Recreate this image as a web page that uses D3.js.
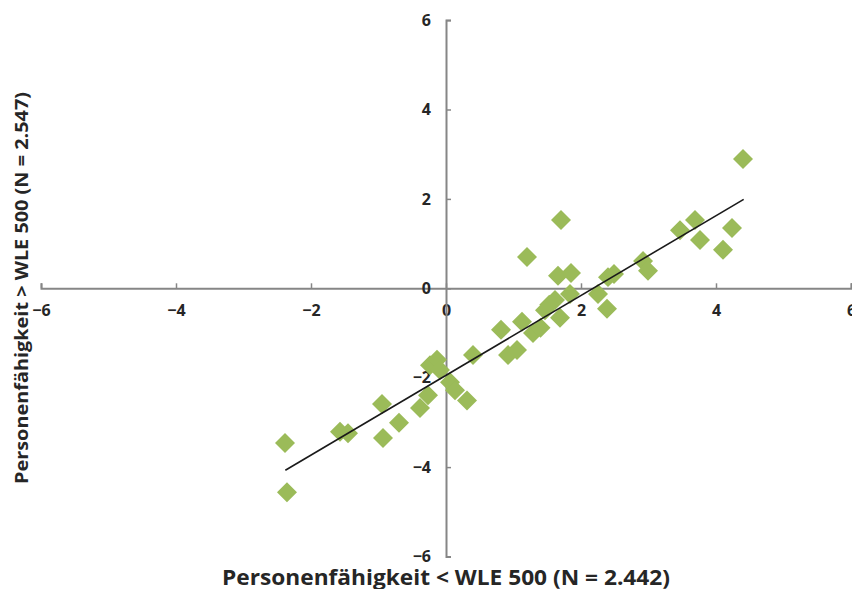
<!DOCTYPE html>
<html>
<head>
<meta charset="utf-8">
<script src="https://cdn.jsdelivr.net/npm/d3@7"></script>
<style>
  body { margin: 0; background: #fff; }
  text { font-family: "Open Sans", sans-serif; font-weight: bold; fill: #262626; }
</style>
</head>
<body>
<svg id="chart"></svg>
<script>
var width = 852,
  height = 589;

// values
var xVals = [-2.385, -2.356, -1.570, -1.452, -0.948, -0.933, -0.696, -0.385, -0.267, -0.237,
  -0.133, -0.089, 0.059, 0.133, 0.311, 0.400, 0.815, 0.919, 1.052, 1.126,
  1.289, 1.200, 1.467, 1.530, 1.615, 1.689, 1.400, 1.704, 1.659, 1.852,
  1.837, 2.252, 2.385, 2.400, 2.489, 2.919, 2.993, 3.467, 3.689, 3.763,
  4.237, 4.104, 4.400];
var yVals = [-3.46, -4.56, -3.21, -3.24, -2.59, -3.35, -3.01, -2.68, -2.39, -1.72,
  -1.60, -1.83, -2.10, -2.28, -2.51, -1.49, -0.93, -1.49, -1.38, -0.75,
  -1.00, 0.70, -0.49, -0.37, -0.26, -0.66, -0.88, 1.53, 0.28, 0.34,
  -0.13, -0.13, -0.46, 0.25, 0.32, 0.61, 0.39, 1.30, 1.53, 1.08,
  1.35, 0.86, 2.89];
var trendX = [-2.38, 4.41];
var trendY = [-4.07, 1.99];
var tickVals = [-6, -4, -2, 0, 2, 4, 6];
var xTitle = "Personenfähigkeit < WLE 500 (N = 2.442)";
var yTitle = "Personenfähigkeit > WLE 500 (N = 2.547)";

var svg = d3.select("#chart")
  .attr("width", width)
  .attr("height", height);

var x = d3.scaleLinear().domain([-6, 6]).range([41, 851]);
var y = d3.scaleLinear().domain([-6, 6]).range([556.5, 20.1]);

var xAxis = d3.axisBottom(x)
  .tickValues(tickVals)
  .tickSizeInner(-5)
  .tickSizeOuter(-5)
  .tickPadding(16)
  .tickFormat(d3.format("d"));

var yAxis = d3.axisLeft(y)
  .tickValues(tickVals)
  .tickSizeInner(-5)
  .tickSizeOuter(-5)
  .tickPadding(15)
  .tickFormat(d3.format("d"));

function styleAxis(g) {
  g.select(".domain").attr("stroke", "#868686").attr("stroke-width", 2);
  g.selectAll(".tick line").attr("stroke", "#868686").attr("stroke-width", 1.5);
  g.selectAll(".tick text")
    .style("font-size", "16px")
    .style("font-family", "'Open Sans', sans-serif")
    .style("font-weight", "bold")
    .attr("fill", "#262626");
}

svg.append("g")
  .attr("transform", "translate(0," + y(0) + ")")
  .call(xAxis)
  .call(styleAxis);

svg.append("g")
  .attr("transform", "translate(" + x(0) + ",0)")
  .call(yAxis)
  .call(styleAxis);

// points
var points = xVals.map(function (d, i) { return { x: d, y: yVals[i] }; });
var diamond = d3.symbol().type(d3.symbolSquare).size(200);

svg.append("g")
  .selectAll("path")
  .data(points)
  .enter().append("path")
  .attr("d", diamond)
  .attr("transform", function (d) {
    return "translate(" + x(d.x) + "," + y(d.y) + ") rotate(45)";
  })
  .attr("fill", "#9BBB59");

// trend line
svg.append("line")
  .attr("x1", x(trendX[0]))
  .attr("y1", y(trendY[0]))
  .attr("x2", x(trendX[1]))
  .attr("y2", y(trendY[1]))
  .attr("stroke", "#1a1a1a")
  .attr("stroke-width", 1.6);

// axis titles
svg.append("text")
  .attr("x", 446)
  .attr("y", 585)
  .attr("text-anchor", "middle")
  .attr("textLength", 448)
  .attr("lengthAdjust", "spacingAndGlyphs")
  .style("font-size", "21px")
  .text(xTitle);

svg.append("text")
  .attr("transform", "translate(28,288) rotate(-90)")
  .attr("text-anchor", "middle")
  .attr("textLength", 392)
  .attr("lengthAdjust", "spacingAndGlyphs")
  .style("font-size", "18px")
  .text(yTitle);
</script>
</body>
</html>
